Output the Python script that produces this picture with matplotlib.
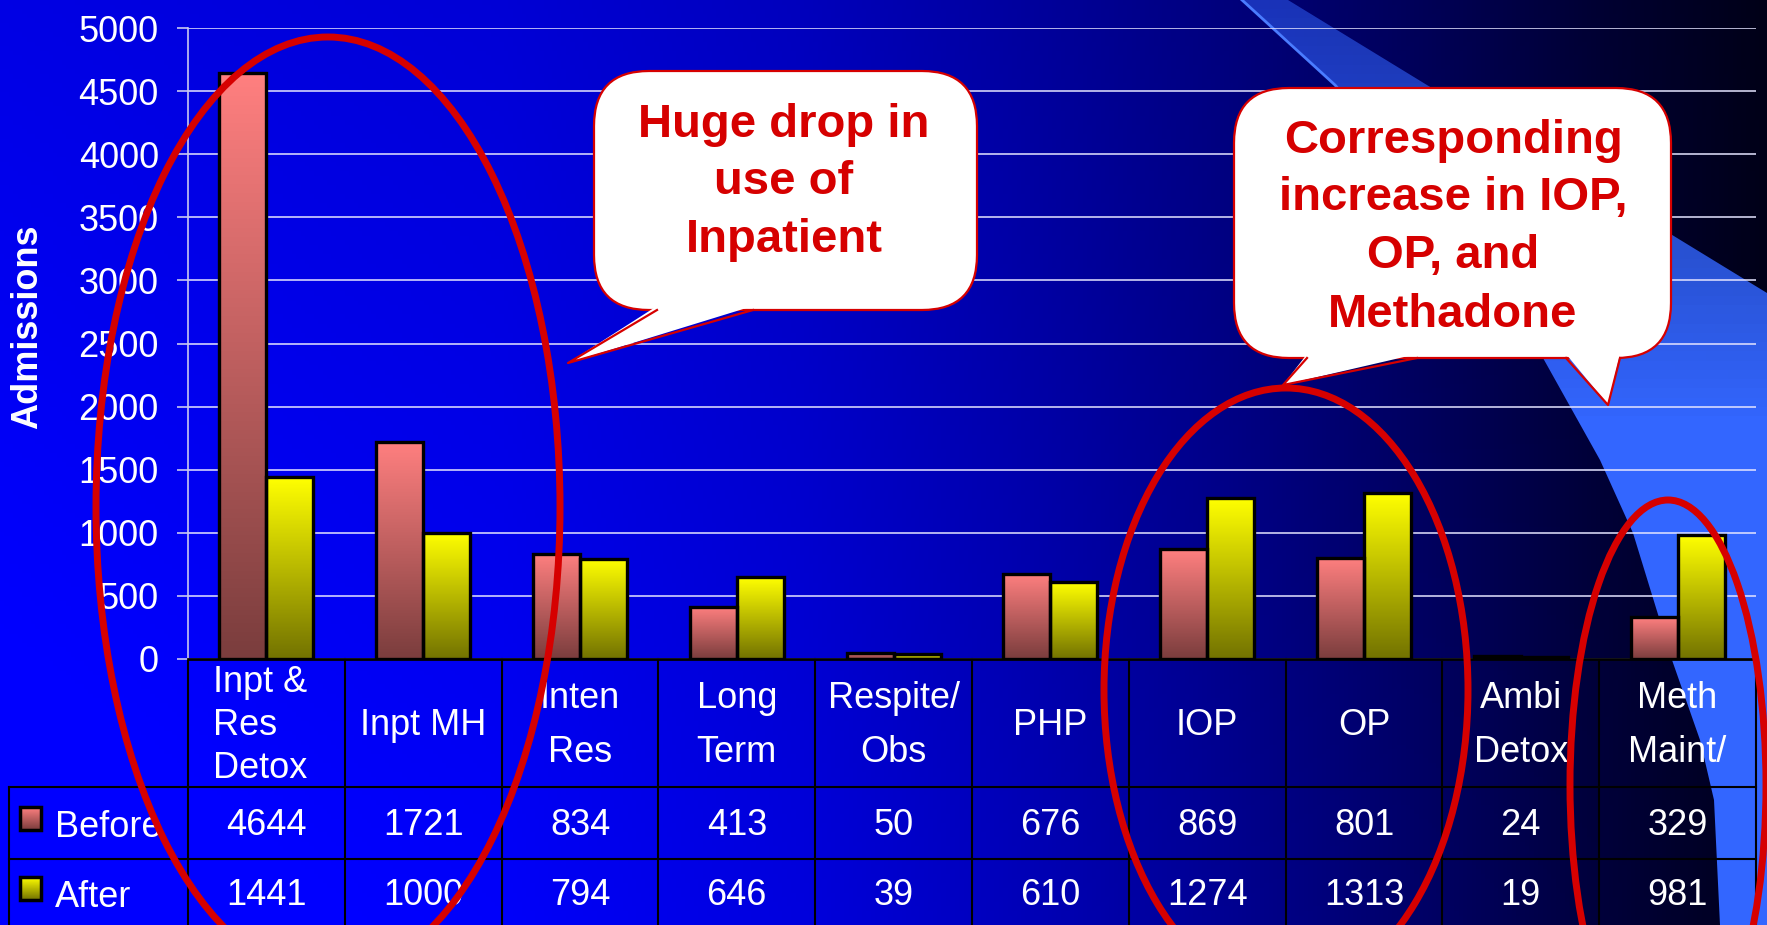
import numpy as np
import matplotlib
matplotlib.use("Agg")
import matplotlib.pyplot as plt
from matplotlib import transforms
from matplotlib.patches import Ellipse, FancyBboxPatch, Polygon

plt.rcParams["font.family"] = ["Liberation Sans", "DejaVu Sans"]

# ---------------------------------------------------------------------------
# Data
# ---------------------------------------------------------------------------
categories = ["Inpt &\nRes\nDetox", "Inpt MH", "Inten\nRes", "Long\nTerm",
              "Respite/\nObs", "PHP", "IOP", "OP", "Ambi\nDetox", "Meth\nMaint/"]
before = [4644, 1721, 834, 413, 50, 676, 869, 801, 24, 329]
after = [1441, 1000, 794, 646, 39, 610, 1274, 1313, 19, 981]
series_names = ["Before", "After"]
yticks = list(range(0, 5001, 500))

callout_left = ["Huge drop in", "use of", "Inpatient"]
callout_right = ["Corresponding", "increase in IOP,", "OP, and", "Methadone"]

# ---------------------------------------------------------------------------
# Style
# ---------------------------------------------------------------------------
W, H = 1767, 925
RED = "#D60000"
PINK = ((1.0, 0.50, 0.50), (0.48, 0.24, 0.24))     # top, bottom
YELLOW = ((1.0, 1.0, 0.0), (0.45, 0.45, 0.0))
FS = 26

fig = plt.figure(figsize=(W / 100, H / 100), dpi=100)

# slide background (pixel coordinates, y down)
bg = fig.add_axes([0, 0, 1, 1], zorder=0)
bg.set_xlim(0, W)
bg.set_ylim(H, 0)
bg.axis("off")

xs = np.linspace(0, W, 400)
blue = np.interp(xs, [0, 500, 800, 1000, 1200, 1400, 1600, 1767],
                 [248, 232, 205, 175, 140, 100, 55, 25]) / 255
shade = np.linspace(0.92, 1.08, 200)[:, None]
img = np.zeros((200, 400, 3))
img[..., 2] = np.clip(blue[None, :] * shade, 0, 1)
bg.imshow(img, extent=[0, W, H, 0], aspect="auto", zorder=0)

# light blue swoosh on the right
swoosh_pts = [(1242, 0), (1290, 42), (1335, 85), (1400, 160), (1470, 250),
              (1543, 358), (1600, 460), (1633, 533), (1672, 660), (1700, 740),
              (1714, 800), (1720, 925), (W, 925), (W, 293), (1288, 0)]
sw = Polygon(swoosh_pts, closed=True, facecolor="none", edgecolor="none")
bg.add_patch(sw)
sg = np.zeros((100, 1, 4))
sg[..., 0], sg[..., 1], sg[..., 2] = 0.2, 0.4, 1.0
sg[..., 3] = np.clip(np.linspace(0.5, 1.6, 100), 0, 1)[:, None]
im = bg.imshow(sg, extent=[1200, W, H, 0], aspect="auto", zorder=1)
im.set_clip_path(sw)
bg.plot([1242, 1335, 1400], [0, 85, 160], color="#4A7CFF", lw=2, zorder=1)
bg.set_xlim(0, W)
bg.set_ylim(H, 0)

# ---------------------------------------------------------------------------
# Bars
# ---------------------------------------------------------------------------
ax = fig.add_axes([188 / W, 1 - 659 / H, (1756 - 188) / W, (659 - 28) / H], zorder=1)
ax.patch.set_alpha(0)
x = np.arange(len(categories))
bw = 0.3


def grad_bar(xc, val, colors):
    top, bot = np.array(colors[0]), np.array(colors[1])
    g = np.linspace(top, bot, 128)[:, None, :]
    ax.imshow(g, extent=[xc - bw / 2, xc + bw / 2, 0, val], aspect="auto",
              interpolation="bilinear", zorder=2)


for xi, (b, a) in enumerate(zip(before, after)):
    grad_bar(xi - bw / 2, b, PINK)
    grad_bar(xi + bw / 2, a, YELLOW)
ax.bar(x - bw / 2, before, bw, facecolor="none", edgecolor="black", lw=2.4, zorder=3)
ax.bar(x + bw / 2, after, bw, facecolor="none", edgecolor="black", lw=2.4, zorder=3)

ax.set_xlim(-0.5, len(categories) - 0.5)
ax.set_ylim(0, 5000)
ax.set_yticks(yticks)
ax.set_xticks([])
ax.grid(axis="y", color="#E4E4FF", lw=1.3, alpha=0.85)
ax.set_axisbelow(True)
for s in ("top", "right"):
    ax.spines[s].set_visible(False)
ax.spines["left"].set_color("#C8C8F0")
ax.spines["left"].set_linewidth(1.2)
ax.spines["bottom"].set_color("black")
ax.spines["bottom"].set_linewidth(2)
ax.tick_params(axis="y", colors="#C8C8F0", length=8, width=1.2, pad=13,
               labelsize=FS, labelcolor="white")

bg.text(28, 327, "Admissions", rotation=90, fontsize=FS, fontweight="bold",
        color="white", ha="center", va="center")

# ---------------------------------------------------------------------------
# Data table under the plot
# ---------------------------------------------------------------------------
tr = transforms.blended_transform_factory(ax.transData, bg.transData)
line_kw = dict(color="black", lw=1.5, zorder=3)
for i in range(len(categories) + 1):
    bg.plot([i - 0.5, i - 0.5], [659, H], transform=tr, **line_kw)
bg.plot([9, 1756], [787, 787], **line_kw)
bg.plot([9, 1756], [859, 859], **line_kw)
bg.plot([9, 9], [787, H], **line_kw)

for i, lab in enumerate(categories):
    lines = lab.split("\n")
    n = len(lines)
    step = 43.5 if n == 3 else 54
    for j, line in enumerate(lines):
        yb = 722 + (j - (n - 1) / 2) * step + 13
        if n == 3:
            bg.text(i - 0.34, yb, line, transform=tr, ha="left", va="baseline",
                    fontsize=FS, color="white", zorder=4)
        else:
            bg.text(i, yb, line, transform=tr, ha="center", va="baseline",
                    fontsize=FS, color="white", zorder=4)

for row_y, vals, name, cols in ((835, before, series_names[0], PINK),
                                (905, after, series_names[1], YELLOW)):
    for i, v in enumerate(vals):
        bg.text(i, row_y, f"{v}", transform=tr, ha="center", va="baseline",
                fontsize=FS, color="white", zorder=4)
    bg.text(55, row_y + 2, name, ha="left", va="baseline", fontsize=FS,
            color="white", zorder=4)
    g = np.linspace(np.array(cols[0]), np.array(cols[1]), 32)[:, None, :]
    bg.imshow(g, extent=[20, 41, row_y - 5, row_y - 28], aspect="auto", zorder=4)
    bg.add_patch(plt.Rectangle((20, row_y - 28), 21, 23, facecolor="none",
                               edgecolor="black", lw=2.5, zorder=5))
bg.set_xlim(0, W)
bg.set_ylim(H, 0)

# ---------------------------------------------------------------------------
# Callouts and highlight ellipses
# ---------------------------------------------------------------------------
ov = fig.add_axes([0, 0, 1, 1], zorder=2)
ov.patch.set_alpha(0)
ov.set_xlim(0, W)
ov.set_ylim(H, 0)
ov.axis("off")


def bubble(x0, y0, w, h, tails, lines, cx, baselines):
    box = FancyBboxPatch((x0, y0), w, h, boxstyle="round,pad=0,rounding_size=55",
                         facecolor="white", edgecolor=RED, lw=1.6, zorder=3)
    ov.add_patch(box)
    for (ax0, tip, ax1) in tails:
        ov.add_patch(Polygon([(ax0[0], ax0[1] - 4), tip, (ax1[0], ax1[1] - 4)],
                             closed=True, facecolor="white", edgecolor="none", zorder=4))
        ov.plot([ax0[0], tip[0], ax1[0]], [ax0[1], tip[1], ax1[1]], color=RED,
                lw=1.6, zorder=4)
    for line, yb in zip(lines, baselines):
        ov.text(cx, yb, line, ha="center", va="baseline", fontsize=34,
                fontweight="bold", color=RED, zorder=5)


bubble(594, 71, 383, 239, [((657, 310), (568, 363), (753, 310))],
       callout_left, 784, [137, 194, 252])
bubble(1234, 88, 437, 270, [((1307, 358), (1283, 385), (1417, 358)),
                            ((1566, 358), (1608, 405), (1620, 358))],
       callout_right, 1453, [153, 210, 268, 327])

for (cx, cy, ew, eh) in ((328, 507, 464, 940), (1286, 690, 364, 604),
                         (1668, 785, 196, 570)):
    ov.add_patch(Ellipse((cx, cy), ew, eh, fill=False, edgecolor=RED, lw=5,
                         zorder=6))

fig.savefig("out.png", dpi=100)
